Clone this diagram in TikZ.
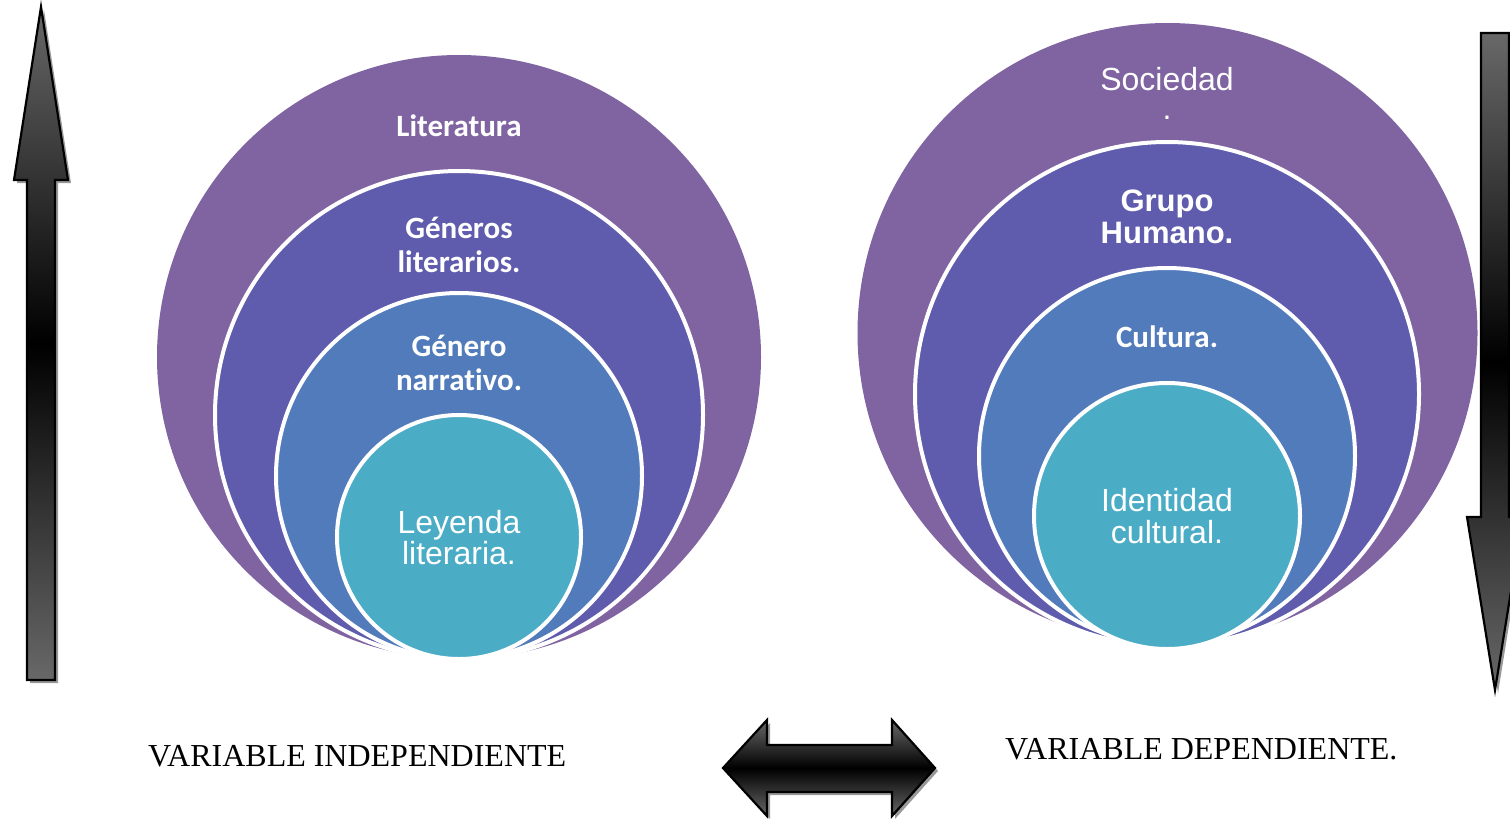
\documentclass[tikz,border=0pt]{standalone}
\usepackage{fontspec}
\setmainfont{Liberation Serif}
\newfontfamily\calibri{Carlito}[Ligatures=NoCommon]
\newfontfamily\arial{Liberation Sans}
\definecolor{cA}{HTML}{8064A2}
\definecolor{cB}{HTML}{5F5BAD}
\definecolor{cC}{HTML}{527BBB}
\definecolor{cD}{HTML}{4BACC6}
\definecolor{arrgray}{HTML}{686868}
\begin{document}
\begin{tikzpicture}[x=1pt,y=-1pt,
  ring/.style={circle, draw=white, line width=4pt, inner sep=0pt},
  lbl/.style={text=white, anchor=base, inner sep=0pt},
  calb/.style={lbl, font=\calibri\bfseries\fontsize{31}{34}\selectfont},
  arb/.style={lbl, font=\arial\bfseries\fontsize{31}{32}\selectfont},
  arr/.style={lbl, font=\arial\fontsize{32}{32}\selectfont},
  varlbl/.style={anchor=base west, inner sep=0pt, font=\fontsize{32}{34}\selectfont},
  shadowpath/.style={fill=black!40},
  arrowbody/.style={top color=arrgray, bottom color=arrgray, middle color=black, draw=black, line width=2.2pt, line join=miter}
]
\useasboundingbox (0,0) rectangle (1510,820);

% ---------- left nested circles ----------
\node[ring, draw=none, fill=cA, minimum size=604pt] (L1) at (459,357) {};
\node[ring, fill=cB, minimum size=488pt] (L2) at (459,415) {};
\node[ring, fill=cC, minimum size=366pt] (L3) at (459,476) {};
\node[ring, fill=cD, minimum size=244pt] (L4) at (459,537) {};

\node[calb] (t1) at (459,136) {Literatura};
\node[calb] (t2a) at (459,238) {Géneros};
\node[calb] (t2b) at (459,272) {literarios.};
\node[calb] (t3a) at (459,356) {Género};
\node[calb] (t3b) at (459,390) {narrativo.};
\node[arr] (t4a) at (459,533) {Leyenda};
\node[arr] (t4b) at (459,564) {literaria.};

% ---------- right nested circles ----------
\node[ring, draw=none, fill=cA, minimum size=620pt] (R1) at (1167.5,333) {};
\node[ring, fill=cB, minimum size=504pt] (R2) at (1167,394) {};
\node[ring, fill=cC, minimum size=376pt] (R3) at (1167,456) {};
\node[ring, fill=cD, minimum size=266pt] (R4) at (1167,516) {};

\node[arr] (s1a) at (1167,90) {Sociedad};
\node[arr] (s1b) at (1167,119) {.};
\node[arb] (s2a) at (1167,211) {Grupo};
\node[arb] (s2b) at (1167,243) {Humano.};
\node[calb] (s3) at (1167,347) {Cultura.};
\node[arr] (s4a) at (1167,511) {Identidad};
\node[arr] (s4b) at (1167,543) {cultural.};

% ---------- left up arrow ----------
\path[shadowpath, shift={(3,3)}] (41,7) -- (68,180) -- (55,180) -- (55,680) -- (27,680) -- (27,180) -- (14,180) -- cycle;
\path[arrowbody] (41,7) -- (68,180) -- (55,180) -- (55,680) -- (27,680) -- (27,180) -- (14,180) -- cycle;

% ---------- right down arrow ----------
\begin{scope}
\clip (0,0) rectangle (1510,820);
\path[shadowpath, shift={(3,3)}] (1481,33) -- (1509,33) -- (1509,517) -- (1523,517) -- (1495,690) -- (1467,517) -- (1481,517) -- cycle;
\path[arrowbody] (1481,33) -- (1509,33) -- (1509,517) -- (1523,517) -- (1495,690) -- (1467,517) -- (1481,517) -- cycle;
\end{scope}

% ---------- double arrow ----------
\path[shadowpath, shift={(3,3)}] (723,768) -- (767,720) -- (767,745) -- (892,745) -- (892,720) -- (935,768) -- (892,816) -- (892,792) -- (767,792) -- (767,816) -- cycle;
\path[arrowbody] (723,768) -- (767,720) -- (767,745) -- (892,745) -- (892,720) -- (935,768) -- (892,816) -- (892,792) -- (767,792) -- (767,816) -- cycle;

% ---------- labels ----------
\node[varlbl] (vi) at (148,766) {VARIABLE INDEPENDIENTE};
\node[varlbl] (vd) at (1005,759) {VARIABLE DEPENDIENTE.};
\end{tikzpicture}
\end{document}
